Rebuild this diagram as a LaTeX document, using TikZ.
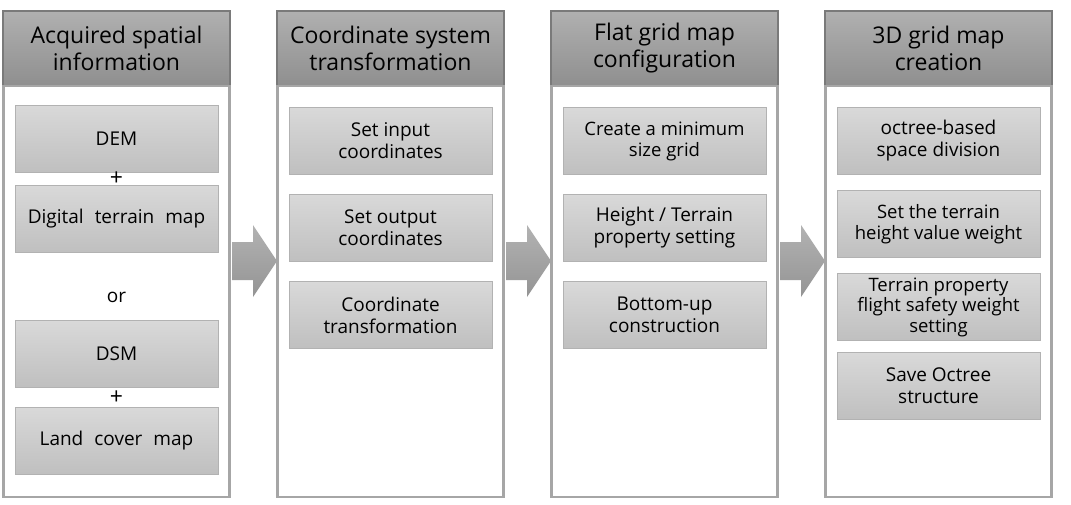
\documentclass[tikz,border=0pt]{standalone}
\usepackage{fontspec}
\setmainfont{Open Sans}
\usetikzlibrary{positioning,calc}

\begin{document}
\begin{tikzpicture}[
  x=1pt, y=-1pt,
  node distance=20pt,
  head/.style={draw=black!52, line width=1.8pt, top color=black!31, bottom color=black!44,
    minimum width=227pt, minimum height=75pt, inner sep=0pt, outer sep=0pt, align=center,
    font=\fontsize{23}{27}\selectfont, anchor=north west},
  panel/.style={draw=black!35, line width=2.2pt, fill=white, minimum width=226pt,
    minimum height=411pt, inner sep=0pt, outer sep=0pt},
  item/.style={draw=black!30, line width=1pt, top color=black!15, bottom color=black!25,
    minimum width=203pt, minimum height=67pt, inner sep=0pt, outer sep=0pt, align=center,
    font=\fontsize{19}{22}\selectfont},
  small/.style={font=\fontsize{18.5}{21}\selectfont},
  wide/.style={execute at begin node={\spaceskip=11pt\relax}},
  txt/.style={inner sep=0pt, font=\fontsize{19}{21}\selectfont},
  plus/.style={inner sep=0pt, font=\fontsize{23}{23}\selectfont},
  blockarr/.style={top color=black!30, bottom color=black!42, draw=none}
]
\useasboundingbox (0,0) rectangle (1071,504);

% block arrows between the stages
\foreach \i in {0,1,2} {
  \begin{scope}[xshift=\i*274pt]
    \path[blockarr] (232,242) -- (253,242) -- (253,225) -- (277,261)
      -- (253,297) -- (253,280) -- (232,280) -- cycle;
  \end{scope}
}

% stage headers and panels
\node[head] (h1) at (3,11) {Acquired spatial\\information};
\node[head] (h2) at (277,11) {Coordinate system\\transformation};
\node[head] (h3) at (551,11) {Flat grid map\\configuration};
\node[head] (h4) at (825,11) {3D grid map\\creation};
\foreach \i in {1,...,4}
  \node[panel, below=0pt of h\i] (p\i) {};

% stage 1
\node[item, anchor=north] (dem) at ([yshift=-19.5pt]p1.north) {DEM};
\node[item, wide, below=13pt of dem] (dtm) {Digital terrain map};
\node[txt] (or) at ([yshift=-45pt]dtm.south) {or};
\node[item, below=68pt of dtm] (dsm) {DSM};
\node[item, wide, below=20pt of dsm] (lcm) {Land cover map};
\node[plus] (plusa) at ($(dem.south)!0.5!(dtm.north)$) {+};
\node[plus] (plusb) at ($(dsm.south)!0.5!(lcm.north)$) {+};

% stage 2
\node[item, anchor=north] (inp) at ([yshift=-21.5pt]p2.north) {Set input\\coordinates};
\node[item, below=of inp] (outp) {Set output\\coordinates};
\node[item, below=of outp] (trf) {Coordinate\\transformation};

% stage 3
\node[item, anchor=north, small] (mingrid) at ([yshift=-21.5pt]p3.north) {Create a minimum\\size grid};
\node[item, below=of mingrid] (prop) {Height / Terrain\\property setting};
\node[item, below=of prop] (btm) {Bottom-up\\construction};

% stage 4
\node[item, anchor=north] (oct) at ([yshift=-21.5pt]p4.north) {octree-based\\space division};
\node[item, small, below=16pt of oct] (hgt) {Set the terrain\\height value weight};
\node[item, below=16pt of hgt, font=\fontsize{18.5}{20.5}\selectfont] (safe) {Terrain property\\flight safety weight\\setting};
\node[item, below=12pt of safe] (save) {Save Octree\\structure};
\end{tikzpicture}
\end{document}
